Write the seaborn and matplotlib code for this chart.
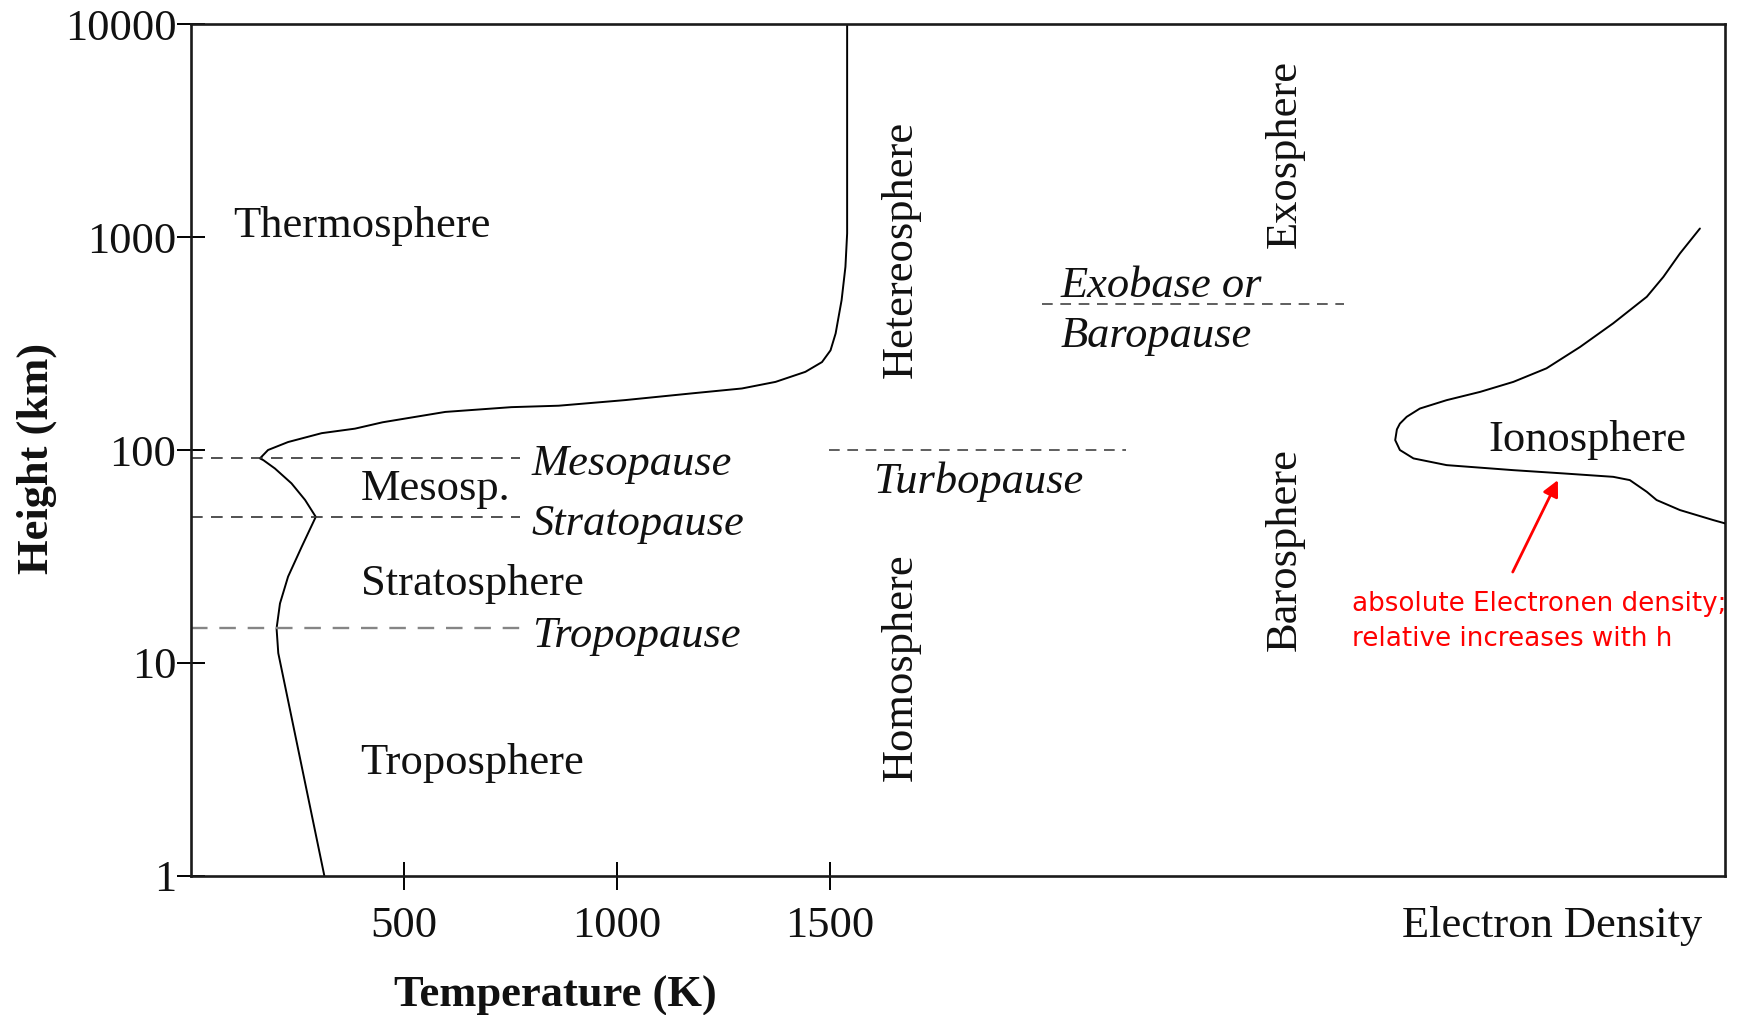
import numpy as np
import pandas as pd
import matplotlib
matplotlib.use("Agg")
import matplotlib.pyplot as plt
import matplotlib.transforms as mtransforms
import seaborn as sns

# Mean temperature profile of the atmosphere
temp_K = [313, 205, 201, 209, 228, 260, 293, 268, 236, 197, 170, 162,
          181, 228, 307, 385, 450, 597, 752, 863, 1019, 1176, 1293, 1372,
          1442, 1481, 1501, 1513, 1520, 1527, 1536, 1540, 1540]
temp_height_km = [1, 11.1, 14.5, 19.0, 25.4, 35.1, 48.5, 58.2, 69.7, 81.9,
                  89.6, 91.3, 100, 109, 120, 126, 135, 151, 159, 161.5,
                  171.6, 184.6, 194.6, 209, 233, 259, 294, 353, 423, 506,
                  726, 1042, 10000]

# Relative electron density profile (arbitrary units, 0..1)
electron_density = [0.941, 0.894, 0.855, 0.816, 0.737, 0.659, 0.580, 0.502,
                    0.424, 0.345, 0.282, 0.251, 0.235, 0.228, 0.224, 0.235,
                    0.267, 0.345, 0.502, 0.620, 0.737, 0.776, 0.816, 0.839,
                    0.894, 0.973, 1.0]
ed_height_km = [1099, 839, 651, 525, 394, 305, 242, 209, 187.6, 171.5,
                156.6, 143.2, 133, 125, 111.3, 100, 91.3, 84.9, 80.4, 77.6,
                74.8, 72.2, 63.6, 58.2, 52.2, 46.8, 45.2]

# Lower-atmosphere boundaries
pause_names = ["Mesopause", "Stratopause", "Tropopause"]
pause_height_km = [91.3, 48.5, 14.5]
pause_label_km = [85.6, 44.8, 13.3]
pause_colors = ["#333333", "#333333", "#858585"]
pause_widths = [1.2, 1.2, 1.7]

# Upper-atmosphere boundaries
turbopause_km = 100
turbopause_span_K = [1497, 2195]
exobase_km = 488
exobase_span_K = [1998, 2705]

x_ticks = [500, 1000, 1500]
y_ticks = [1, 10, 100, 1000, 10000]
y_tick_labels = ["1", "10", "100", "1000", "10000"]

sns.set_theme(style="ticks")
plt.rcParams["font.family"] = ["Liberation Serif", "DejaVu Serif"]

FS = 32
INK = "#111111"
DASH = (0, (7, 5))

fig = plt.figure(figsize=(17.42, 10.15), dpi=100)
ax = fig.add_axes([0.1096, 0.1374, 0.8806, 0.8385])
ax.set_yscale("log")

profile = pd.DataFrame({"T": temp_K, "h": temp_height_km})
sns.lineplot(data=profile, x="T", y="h", sort=False, estimator=None,
             color="black", lw=1.4, ax=ax)

# Boundary lines
for h, c, w in zip(pause_height_km, pause_colors, pause_widths):
    ax.hlines(h, 0, 773, colors=c, lw=w, linestyles=DASH)
ax.hlines(turbopause_km, *turbopause_span_K, colors="#333333", lw=1.1,
          linestyles=DASH)
ax.hlines(exobase_km, *exobase_span_K, colors="#333333", lw=1.1,
          linestyles=DASH)

# Layer names
ax.text(100, 1124, "Thermosphere", fontsize=FS, color=INK, va="center", ha="left")
ax.text(398, 65.3, "Mesosp.", fontsize=FS, color=INK, va="center", ha="left")
ax.text(398, 23.4, "Stratosphere", fontsize=FS, color=INK, va="center", ha="left")
ax.text(398, 3.37, "Troposphere", fontsize=FS, color=INK, va="center", ha="left")
for name, h in zip(pause_names, pause_label_km):
    ax.text(800, h, name, fontsize=FS, style="italic", color=INK,
            va="center", ha="left")
ax.text(1601, 71.2, "Turbopause", fontsize=FS, style="italic", color=INK,
        va="center", ha="left")
ax.text(2040, 587, "Exobase or", fontsize=FS, style="italic", color=INK,
        va="center", ha="left")
ax.text(2040, 342, "Baropause", fontsize=FS, style="italic", color=INK,
        va="center", ha="left")
ax.text(1666, 880, "Hetereosphere", fontsize=FS, color=INK, rotation=90,
        va="center", ha="center")
ax.text(1666, 9.55, "Homosphere", fontsize=FS, color=INK, rotation=90,
        va="center", ha="center")
ax.text(2566, 2450, "Exosphere", fontsize=FS, color=INK, rotation=90,
        va="center", ha="center")
ax.text(2566, 33.9, "Barosphere", fontsize=FS, color=INK, rotation=90,
        va="center", ha="center")
ax.text(3046, 111, "Ionosphere", fontsize=FS, color=INK, va="center", ha="left")

# Electron density note
ax.annotate("", xy=(3208, 72.2), xytext=(3102, 26.7),
            arrowprops=dict(arrowstyle="-|>", color="red", lw=2,
                            mutation_scale=24, shrinkA=0, shrinkB=0))
ax.text(2724, 15.6, "absolute Electronen density;\nrelative increases with h",
        color="red", fontsize=18.8, family=["DejaVu Sans"], va="center",
        ha="left", linespacing=1.42)

# Axes styling
ax.set_xlim(0, 3600)
ax.set_xticks(x_ticks)
ax.set_yticks(y_ticks, labels=y_tick_labels)
ax.minorticks_off()
ax.tick_params(axis="both", direction="inout", length=20, width=1.4,
               labelsize=FS, colors="black", labelcolor=INK)
ax.tick_params(axis="x", pad=11.6)
ax.tick_params(axis="y", pad=0.5)
for side in ["left", "right", "top", "bottom"]:
    ax.spines[side].set_visible(True)
    ax.spines[side].set_linewidth(1.9)
    ax.spines[side].set_color("#1a1a1a")

ax.set_xlabel("Temperature (K)", fontsize=FS, fontweight="bold", color=INK)
ax.xaxis.set_label_coords(0.2377, -0.1177)
ax.set_ylabel("Height (km)", fontsize=FS, fontweight="bold", color=INK)
ax.yaxis.set_label_coords(-0.0876, 0.49)

trans = mtransforms.blended_transform_factory(ax.transData, ax.transAxes)
ax.text(2841, -0.0598, "Electron Density", fontsize=FS, color=INK,
        transform=trans, va="center", ha="left")

# Electron density curve on its own horizontal scale
ax_ed = fig.add_axes([1300 / 1742, 0.1374, 425 / 1742, 0.8385], sharey=ax)
ax_ed.patch.set_alpha(0)
density = pd.DataFrame({"ne": electron_density, "h": ed_height_km})
sns.lineplot(data=density, x="ne", y="h", sort=False, estimator=None,
             color="black", lw=1.4, ax=ax_ed)
ax_ed.set_xlim(0, 1)
ax_ed.axis("off")

ax.set_ylim(1, 10000)

fig.savefig("out.png", dpi=100)
